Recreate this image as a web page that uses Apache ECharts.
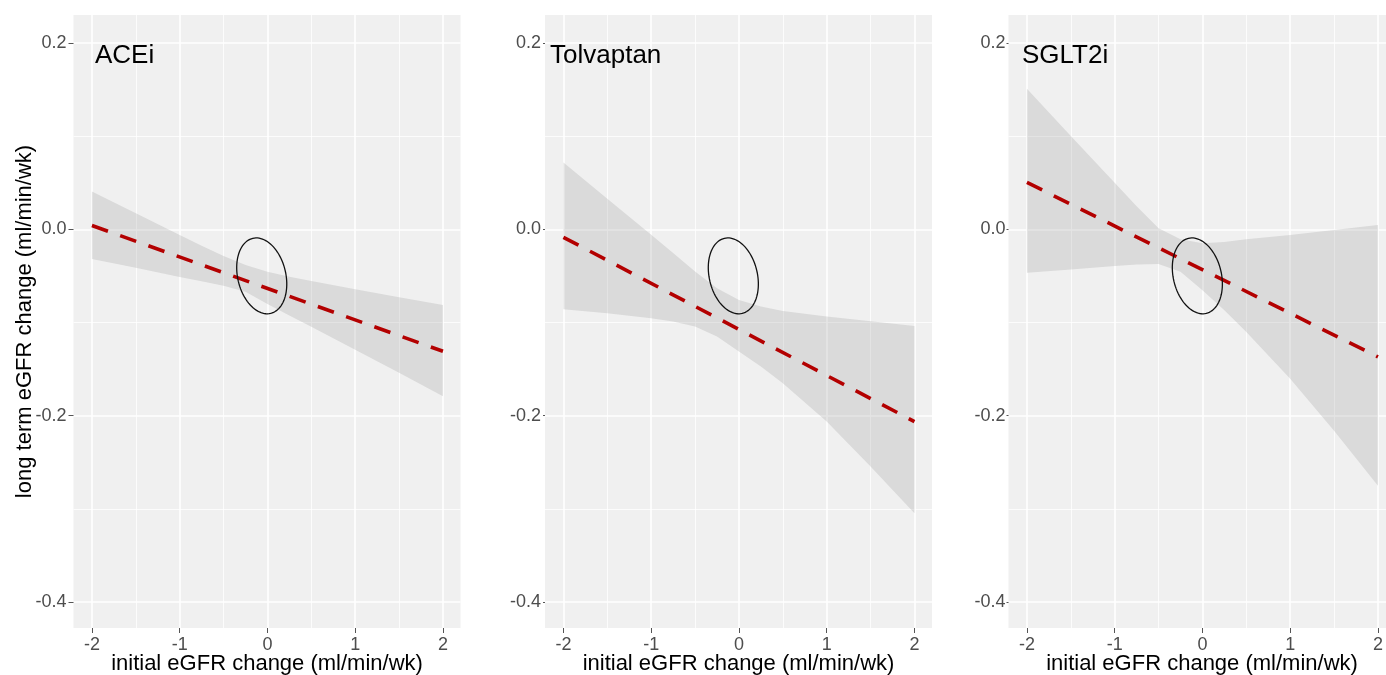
<!DOCTYPE html>
<html><head><meta charset="utf-8">
<script src="https://cdn.jsdelivr.net/npm/echarts@6/dist/echarts.min.js"></script>
<style>html,body{margin:0;padding:0;background:#fff;}#chart{width:1386px;height:675px;}</style>
</head><body><div id="chart"></div>
<script>
// ---------- data ----------
const panelNames = ['ACEi', 'Tolvaptan', 'SGLT2i'];
const xTicks = [-2, -1, 0, 1, 2];
const yTicks = [-0.4, -0.2, 0, 0.2];
const ribbonX = [-2, -1.5, -1, -0.75, -0.5, -0.25, 0, 0.25, 0.5, 1, 1.5, 2];
const aceiUpper = [0.0405, 0.0172, -0.0061, -0.0176, -0.0287, -0.0384, -0.0455, -0.0509, -0.0556, -0.0645, -0.0731, -0.0814];
const aceiLower = [-0.0319, -0.0414, -0.0512, -0.0559, -0.0606, -0.0670, -0.0803, -0.0925, -0.1047, -0.1294, -0.1541, -0.1792];
const tolvUpper = [0.0716, 0.0327, -0.0059, -0.0254, -0.0454, -0.0633, -0.0758, -0.0830, -0.0877, -0.0937, -0.0987, -0.1038];
const tolvLower = [-0.0859, -0.0902, -0.0955, -0.0991, -0.1045, -0.1152, -0.1313, -0.1474, -0.1653, -0.2064, -0.2547, -0.3048];
const sgltUpper = [0.1508, 0.1002, 0.0499, 0.0248, 0.0010, -0.0108, -0.0151, -0.0136, -0.0108, -0.0061, -0.0007, 0.0047];
const sgltLower = [-0.0467, -0.0431, -0.0395, -0.0377, -0.0373, -0.0456, -0.0654, -0.0869, -0.1102, -0.1605, -0.2162, -0.2754];
const lineX = [-2, 2];
const aceiLine = [0.004, -0.131];
const tolvLine = [-0.0086, -0.2064];
const sgltLine = [0.0503, -0.137];
const ellipseCenters = [[-0.065, -0.050], [-0.064, -0.050], [-0.058, -0.050]];

// ---------- layout / style ----------
const FONT = '"Liberation Sans", Arial, sans-serif';
const gridLefts = [73.5, 545, 1008.5];
const gridWidth = 387;
const yLabelMargins = [7, 4, 3];
const yTickLengths = [5, 2, 2];
const titleX = [95, 550, 1022];
const ellipseSemiY = 0.0414;   // semi-major, in y units
const ellipseSemiX = 0.274;    // semi-minor, in x units
const ellipseTiltDeg = 13.4;

const uppers = [aceiUpper, tolvUpper, sgltUpper];
const lowers = [aceiLower, tolvLower, sgltLower];
const lines = [aceiLine, tolvLine, sgltLine];

const grids = [], xAxes = [], yAxes = [], series = [], graphics = [];

panelNames.forEach((name, i) => {
  grids.push({left: gridLefts[i], width: gridWidth, top: 15, bottom: 47, show: true,
    backgroundColor: '#F0F0F0', borderWidth: 0, containLabel: false, outerBoundsMode: 'none'});
  xAxes.push({
    gridIndex: i, type: 'value', min: -2.21, max: 2.2, splitNumber: 4, position: 'bottom',
    axisLine: {show: false, onZero: false},
    axisTick: {show: true, length: 5, customValues: xTicks, lineStyle: {color: '#555', width: 1}},
    axisLabel: {customValues: xTicks, color: '#4d4d4d', fontSize: 18, margin: 8, fontFamily: FONT,
      formatter: v => String(v)},
    splitLine: {show: true, lineStyle: {color: '#ffffff', width: 1.6}},
    minorTick: {show: false, splitNumber: 2},
    minorSplitLine: {show: true, lineStyle: {color: '#ffffff', width: 0.8}},
    name: 'initial eGFR change (ml/min/wk)', nameLocation: 'middle', nameGap: 25, nameMoveOverlap: false,
    nameTextStyle: {fontSize: 22, color: '#000', fontFamily: FONT}
  });
  const ya = {
    gridIndex: i, type: 'value', min: -0.428, max: 0.23, splitNumber: 3, position: 'left',
    axisLine: {show: false, onZero: false},
    axisTick: {show: true, length: yTickLengths[i], customValues: yTicks, lineStyle: {color: '#555', width: 1}},
    axisLabel: {customValues: yTicks, color: '#4d4d4d', fontSize: 18, margin: yLabelMargins[i], fontFamily: FONT,
      formatter: v => v.toFixed(1)},
    splitLine: {show: true, lineStyle: {color: '#ffffff', width: 1.6}},
    minorTick: {show: false, splitNumber: 2},
    minorSplitLine: {show: true, lineStyle: {color: '#ffffff', width: 0.8}}
  };
  if (i === 0) {
    ya.name = 'long term eGFR change (ml/min/wk)';
    ya.nameLocation = 'middle';
    ya.nameRotate = 90;
    ya.nameGap = 38;
    ya.nameMoveOverlap = false;
    ya.nameTextStyle = {fontSize: 22, color: '#000', fontFamily: FONT};
  }
  yAxes.push(ya);

  // confidence ribbon
  const up = uppers[i], lo = lowers[i];
  series.push({
    type: 'custom', xAxisIndex: i, yAxisIndex: i, silent: true, clip: true, z: 2,
    data: ribbonX.map((x, k) => [x, lo[k], up[k]]),
    renderItem: function (params, api) {
      if (params.dataIndex !== 0) return null;
      const pts = [];
      for (let k = 0; k < ribbonX.length; k++) pts.push(api.coord([ribbonX[k], up[k]]));
      for (let k = ribbonX.length - 1; k >= 0; k--) pts.push(api.coord([ribbonX[k], lo[k]]));
      return {type: 'polygon', shape: {points: pts}, style: {fill: 'rgba(153,153,153,0.26)', stroke: null}};
    }
  });
  // fitted dashed line
  series.push({
    type: 'line', xAxisIndex: i, yAxisIndex: i, silent: true, symbol: 'none', z: 3,
    data: lineX.map((x, k) => [x, lines[i][k]]),
    lineStyle: {color: '#B30000', width: 3.6, type: [17, 13]}
  });
  // ellipse
  series.push({
    type: 'custom', xAxisIndex: i, yAxisIndex: i, silent: true, z: 4,
    data: [ellipseCenters[i]],
    renderItem: function (params, api) {
      const c = api.coord([api.value(0), api.value(1)]);
      const sx = api.size([1, 0])[0];
      const sy = api.size([0, 1])[1];
      const a = ellipseSemiY * sy, b = ellipseSemiX * sx;
      const th = ellipseTiltDeg * Math.PI / 180;
      const u = [Math.sin(th), Math.cos(th)], v = [Math.cos(th), -Math.sin(th)];
      const pts = [];
      for (let k = 0; k < 96; k++) {
        const t = k / 96 * 2 * Math.PI;
        pts.push([c[0] + a * Math.cos(t) * u[0] + b * Math.sin(t) * v[0],
                  c[1] + a * Math.cos(t) * u[1] + b * Math.sin(t) * v[1]]);
      }
      return {type: 'polygon', shape: {points: pts}, style: {fill: 'none', stroke: '#111', lineWidth: 1.3}};
    }
  });
  graphics.push({type: 'text', x: titleX[i], y: 56, z: 10,
    style: {text: name, fontSize: 26, fontFamily: FONT, fill: '#000', verticalAlign: 'middle'}});
});

const chart = echarts.init(document.getElementById('chart'), null, {renderer: 'canvas'});
chart.setOption({
  animation: false,
  backgroundColor: '#ffffff',
  textStyle: {fontFamily: FONT},
  grid: grids, xAxis: xAxes, yAxis: yAxes, series: series, graphic: graphics
});
</script></body></html>
